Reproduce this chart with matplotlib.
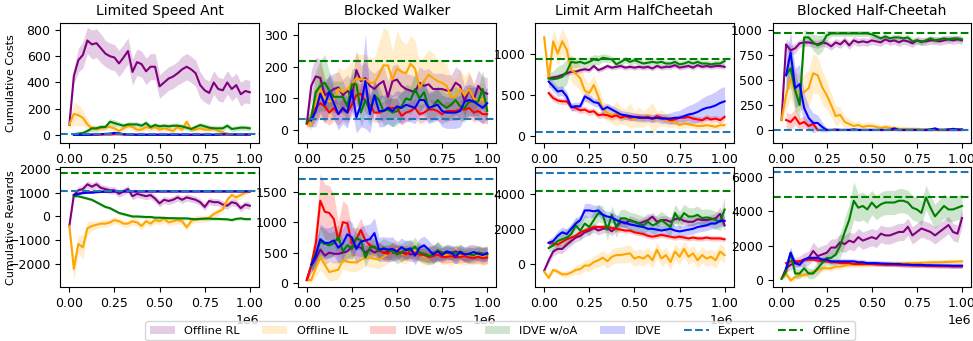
import numpy as np
import matplotlib
matplotlib.use("Agg")
from matplotlib import pyplot as plt
from matplotlib.patches import Patch
from matplotlib.lines import Line2D

nan = np.nan

# training steps, 0 .. 1e6 every 25k
steps = np.linspace(0, 1e6, 41)

titles = ["Limited Speed Ant", "Blocked Walker", "Limit Arm HalfCheetah", "Blocked Half-Cheetah"]
row_labels = ["Cumulative Costs", "Cumulative Rewards"]
method_names = ["Offline RL", "Offline IL", "IDVE w/oS", "IDVE w/oA", "IDVE"]
method_colors = ["purple", "orange", "red", "green", "blue"]

# ---------------- Limited Speed Ant : costs
ant_cost_rl = [76, 450, 570, 610, 720, 690, 700, 660, 620, 600,
               590, 545, 590, 640, 480, 555, 540, 485, 520, 520,
               370, 400, 430, 445, 470, 500, 520, 500, 470, 380,
               340, 320, 400, 350, 340, 400, 350, 380, 310, 335, 325]
ant_cost_rl_sd = [20, 60, 90, 100, 100, 110, 110, 110, 100, 100,
                  100, 100, 100, 100, 100, 100, 100, 100, 100, 100,
                  90, 90, 90, 90, 90, 100, 100, 100, 100, 100,
                  90, 90, 90, 90, 90, 90, 90, 90, 90, 90, 90]
ant_cost_il = [80, 160, 150, 130, 80, 50, 45, 50, 60, 60,
               50, 30, 50, 70, 60, 40, 40, 60, 50, 60,
               40, 50, 40, 30, 60, 40, 100, 40, 40, 50,
               40, 40, 50, 30, 20, 10, 5, 5, 5, 5, 5]
ant_cost_il_sd = [30, 90, 80, 60, 40, 30, 25, 25, 25, 25,
                  25, 20, 25, 25, 25, 20, 20, 25, 25, 25,
                  20, 20, 20, 20, 25, 20, 30, 20, 20, 20,
                  20, 20, 20, 20, 15, 10, 5, 5, 5, 5, 5]
ant_cost_wos = [nan, nan, 2, 2, 2, 2, 2, 3, 3, 3,
                5, 5, 3, 3, 3, 2, 2, 2, 2, 2,
                2, 2, 2, 2, 2, 2, 2, 2, 2, 2,
                2, 2, 2, 2, 2, 2, 2, 2, 2, 2, 2]
ant_cost_wos_sd = [0, 0, 4, 4, 4, 4, 4, 4, 4, 4,
                   5, 5, 4, 4, 4, 4, 4, 4, 4, 4,
                   4, 4, 4, 4, 4, 4, 4, 4, 4, 4,
                   4, 4, 4, 4, 4, 4, 4, 4, 4, 4, 4]
ant_cost_woa = [nan, 5, 10, 15, 30, 50, 50, 60, 60, 100,
                90, 80, 70, 80, 80, 80, 70, 90, 60, 75,
                65, 70, 65, 70, 70, 65, 55, 45, 60, 75,
                65, 55, 50, 50, 50, 70, 45, 50, 55, 55, 50]
ant_cost_woa_sd = [0, 5, 10, 10, 15, 20, 20, 20, 20, 25,
                   25, 20, 20, 20, 20, 20, 20, 20, 20, 20,
                   20, 20, 20, 20, 20, 20, 20, 20, 20, 20,
                   20, 20, 20, 20, 20, 20, 20, 20, 20, 20, 20]
ant_cost_idve = [nan, 0, 0, 0, 0, 2, 3, 5, 8, 10,
                 15, 12, 5, 3, 2, 1, 1, 1, 1, 1,
                 1, 1, 1, 1, 1, 1, 1, 1, 1, 1,
                 1, 1, 1, 1, 5, 5, 3, 3, 3, 3, 3]
ant_cost_idve_sd = [0, 3, 3, 3, 3, 4, 5, 6, 8, 10,
                    12, 10, 6, 4, 3, 3, 3, 3, 3, 3,
                    3, 3, 3, 3, 3, 3, 3, 3, 3, 3,
                    3, 3, 3, 3, 5, 5, 4, 4, 4, 4, 4]

# ---------------- Limited Speed Ant : rewards
ant_rew_rl = [-400, 900, 1100, 1150, 1350, 1250, 1350, 1200, 1150, 1100,
              1100, 950, 1050, 1150, 850, 950, 900, 850, 900, 750,
              550, 700, 650, 700, 800, 700, 800, 750, 700, 600,
              400, 650, 600, 600, 500, 450, 600, 550, 350, 500, 450]
ant_rew_rl_sd = [50, 100, 150, 150, 150, 150, 150, 150, 150, 150,
                 150, 150, 150, 150, 150, 150, 150, 150, 150, 150,
                 150, 150, 150, 150, 150, 150, 150, 150, 150, 150,
                 150, 150, 150, 150, 150, 150, 150, 150, 150, 150, 150]
ant_rew_il = [-400, -2200, -1150, -1300, -500, -400, -350, -300, -300, -250,
              -150, -200, -300, -300, -200, -250, -400, -200, -300, -150,
              -200, -100, -250, -200, -150, -200, -450, -200, -100, -100,
              -100, -50, 100, 200, 300, 700, 900, 800, 900, 1000, 1050]
ant_rew_il_sd = [50, 500, 400, 500, 300, 200, 150, 150, 150, 150,
                 150, 150, 150, 150, 150, 150, 150, 150, 150, 150,
                 150, 150, 150, 150, 150, 150, 150, 150, 150, 150,
                 150, 150, 150, 150, 150, 150, 150, 150, 150, 100, 100]
ant_rew_wos = [nan, 880, 950, 990, 1010, 1020, 1030, 1040, 1050, 1050,
               1060, 1060, 1060, 1060, 1060, 1060, 1060, 1060, 1060, 1060,
               1060, 1060, 1060, 1060, 1060, 1060, 1060, 1060, 1060, 1060,
               1060, 1060, 1060, 1060, 1060, 1060, 1060, 1060, 1060, 1060, 1060]
ant_rew_wos_sd = [0, 30, 30, 30, 30, 30, 30, 30, 30, 30,
                  30, 30, 30, 30, 30, 30, 30, 30, 30, 30,
                  30, 30, 30, 30, 30, 30, 30, 30, 30, 30,
                  30, 30, 30, 30, 30, 30, 30, 30, 30, 30, 30]
ant_rew_woa = [nan, 850, 850, 800, 750, 700, 600, 500, 400, 350,
               250, 150, 100, 50, 0, 0, -10, -20, -20, -50,
               -50, -60, -70, -70, -80, -80, -80, -100, -120, -100,
               -90, -90, -100, -100, -110, -120, -150, -100, -80, -110, -110]
ant_rew_woa_sd = [0, 40, 40, 50, 60, 60, 60, 60, 60, 60,
                  60, 60, 60, 60, 60, 60, 60, 60, 60, 60,
                  60, 60, 60, 60, 60, 60, 60, 60, 60, 60,
                  60, 60, 60, 60, 60, 60, 60, 60, 60, 60, 60]
ant_rew_idve = [nan, 900, 950, 980, 1000, 1000, 1020, 1030, 1040, 1040,
                1050, 1050, 1050, 1050, 1050, 1050, 1050, 1050, 1050, 1050,
                1050, 1050, 1050, 1050, 1050, 1050, 1050, 1050, 1050, 1050,
                1050, 1050, 1050, 1050, 1050, 1050, 1050, 1050, 1050, 1050, 1050]
ant_rew_idve_sd = [0, 30, 30, 30, 30, 30, 30, 30, 30, 30,
                   30, 30, 30, 30, 30, 30, 30, 30, 30, 30,
                   30, 30, 30, 30, 30, 30, 30, 30, 30, 30,
                   30, 30, 30, 30, 30, 30, 30, 30, 30, 30, 30]

# ---------------- Blocked Walker : costs
walk_cost_rl = [20, 140, 170, 165, 110, 120, 130, 135, 110, 125,
                105, 190, 155, 165, 140, 130, 145, 155, 105, 155,
                160, 140, 130, 125, 120, 150, 140, 145, 130, 130,
                130, 125, 125, 150, 140, 90, 130, 95, 140, 120, 115]
walk_cost_rl_sd = [10, 50, 60, 60, 50, 50, 50, 50, 50, 50,
                   50, 60, 50, 50, 50, 50, 50, 50, 50, 50,
                   50, 50, 50, 50, 50, 50, 50, 50, 50, 50,
                   50, 50, 50, 50, 50, 50, 50, 50, 50, 50, 50]
walk_cost_il = [20, 20, 90, 130, 100, 90, 95, 130, 120, 130,
                145, 165, 160, 160, 150, 150, 175, 205, 205, 160,
                195, 185, 180, 210, 195, 135, 155, 175, 165, 155,
                150, 140, 105, 105, 130, 110, 130, 100, 90, 100, 65]
walk_cost_il_sd = [10, 20, 60, 80, 70, 60, 60, 70, 70, 70,
                   70, 80, 80, 80, 80, 80, 100, 120, 110, 90,
                   120, 100, 90, 90, 90, 80, 80, 80, 80, 70,
                   70, 70, 60, 60, 60, 60, 60, 50, 50, 50, 40]
walk_cost_wos = [20, 40, 70, 85, 75, 55, 70, 50, 65, 55,
                 80, 110, 115, 90, 80, 55, 55, 60, 70, 70,
                 70, 45, 55, 60, 70, 50, 55, 65, 65, 60,
                 50, 60, 60, 60, 65, 65, 70, 55, 60, 50, 50]
walk_cost_wos_sd = [10, 30, 40, 50, 50, 40, 40, 35, 35, 35,
                    35, 35, 35, 35, 35, 30, 30, 30, 30, 30,
                    30, 30, 30, 30, 30, 30, 30, 30, 30, 30,
                    30, 30, 30, 30, 30, 30, 30, 30, 30, 30, 30]
walk_cost_woa = [25, 40, 120, 140, 150, 125, 105, 105, 105, 75,
                 145, 145, 55, 95, 60, 110, 95, 60, 65, 55,
                 60, 75, 100, 95, 130, 100, 120, 70, 75, 95,
                 80, 70, 80, 95, 75, 70, 90, 90, 90, 130, 60]
walk_cost_woa_sd = [10, 30, 70, 80, 90, 60, 50, 50, 50, 45,
                    50, 50, 45, 45, 45, 45, 45, 45, 45, 45,
                    45, 45, 45, 45, 50, 45, 45, 45, 45, 45,
                    45, 45, 45, 45, 45, 45, 45, 45, 45, 60, 45]
walk_cost_idve = [nan, 30, 60, 115, 80, 120, 85, 50, 70, 55,
                  125, 40, 80, 155, 50, 110, 60, 60, 70, 60,
                  75, 70, 80, 75, 70, 95, 95, 70, 75, 80,
                  60, 55, 55, 55, 60, 90, 95, 90, 80, 70, 85]
walk_cost_idve_sd = [0, 20, 50, 60, 60, 60, 50, 50, 50, 50,
                     60, 50, 70, 150, 60, 50, 50, 50, 50, 50,
                     50, 50, 50, 50, 50, 50, 50, 50, 50, 50,
                     50, 50, 50, 50, 50, 50, 50, 50, 50, 50, 50]

# ---------------- Blocked Walker : rewards
walk_rew_rl = [50, 280, 400, 550, 450, 500, 480, 480, 500, 520,
               600, 600, 580, 500, 550, 500, 540, 500, 510, 500,
               520, 480, 500, 470, 480, 500, 470, 460, 500, 470,
               480, 500, 490, 520, 490, 460, 480, 470, 490, 480, 480]
walk_rew_rl_sd = [20, 100, 150, 150, 150, 150, 150, 150, 150, 150,
                  150, 150, 150, 120, 120, 120, 120, 120, 120, 120,
                  120, 120, 120, 120, 120, 120, 120, 120, 120, 120,
                  100, 100, 100, 100, 100, 100, 100, 100, 100, 100, 100]
walk_rew_il = [50, 50, 250, 420, 300, 180, 200, 220, 380, 350,
               340, 340, 380, 430, 410, 400, 380, 430, 480, 520,
               560, 480, 470, 540, 540, 500, 440, 460, 480, 500,
               450, 460, 430, 480, 450, 440, 460, 480, 460, 440, 460]
walk_rew_il_sd = [20, 50, 150, 200, 180, 150, 150, 150, 150, 150,
                  150, 150, 150, 150, 150, 150, 150, 150, 150, 150,
                  150, 150, 150, 150, 150, 150, 150, 150, 150, 150,
                  150, 150, 150, 150, 150, 150, 150, 150, 150, 150, 150]
walk_rew_wos = [50, 300, 650, 1350, 1170, 1150, 1050, 700, 1000, 980,
                650, 720, 870, 700, 620, 580, 550, 500, 480, 550,
                520, 500, 470, 530, 490, 470, 460, 430, 440, 470,
                430, 430, 440, 420, 430, 440, 420, 410, 430, 410, 420]
walk_rew_wos_sd = [20, 150, 300, 450, 450, 450, 400, 300, 350, 300,
                   250, 200, 200, 150, 150, 120, 120, 120, 120, 120,
                   100, 100, 100, 100, 100, 100, 100, 100, 100, 100,
                   100, 100, 100, 100, 100, 100, 100, 100, 100, 100, 100]
walk_rew_woa = [nan, 280, 500, 680, 640, 620, 650, 760, 520, 620,
                560, 740, 700, 420, 580, 600, 520, 580, 540, 520,
                470, 500, 560, 530, 600, 500, 480, 450, 460, 540,
                500, 500, 500, 480, 520, 470, 470, 460, 500, 480, 470]
walk_rew_woa_sd = [0, 100, 200, 250, 250, 200, 200, 200, 200, 200,
                   180, 180, 180, 150, 150, 150, 150, 150, 150, 150,
                   150, 150, 150, 150, 150, 150, 150, 150, 150, 150,
                   120, 120, 120, 120, 120, 120, 120, 120, 120, 120, 120]
walk_rew_idve = [nan, 300, 450, 720, 660, 660, 700, 580, 650, 800,
                 750, 560, 680, 700, 720, 820, 550, 560, 550, 560,
                 520, 590, 540, 570, 450, 580, 620, 550, 470, 520,
                 460, 520, 500, 430, 510, 470, 480, 510, 480, 460, 490]
walk_rew_idve_sd = [0, 100, 200, 250, 250, 250, 250, 250, 250, 250,
                    250, 250, 250, 250, 250, 250, 200, 200, 200, 200,
                    150, 150, 150, 150, 150, 150, 150, 150, 150, 150,
                    120, 120, 120, 120, 120, 120, 150, 120, 120, 120, 120]

# ---------------- Limit Arm HalfCheetah : costs
arm_cost_rl = [nan, 700, 710, 720, 740, 760, 780, 780, 800, 810,
               800, 850, 800, 820, 850, 830, 840, 850, 830, 840,
               830, 840, 830, 840, 820, 850, 830, 840, 840, 860,
               830, 840, 850, 830, 860, 840, 850, 840, 850, 850, 840]
arm_cost_rl_sd = [0, 30, 30, 30, 30, 30, 30, 30, 30, 30,
                  30, 30, 30, 30, 30, 30, 30, 30, 30, 30,
                  30, 30, 30, 30, 30, 30, 30, 30, 30, 30,
                  30, 30, 30, 30, 30, 30, 30, 30, 30, 30, 30]
arm_cost_il = [1200, 700, 1150, 1000, 1150, 1050, 800, 760, 700, 550,
               520, 620, 480, 330, 280, 250, 270, 250, 230, 250,
               200, 230, 200, 250, 200, 200, 220, 190, 180, 170,
               130, 150, 140, 130, 120, 120, 130, 120, 110, 130, 130]
arm_cost_il_sd = [50, 150, 150, 150, 150, 150, 150, 150, 150, 150,
                  120, 120, 120, 100, 100, 100, 150, 100, 100, 150,
                  100, 120, 100, 100, 200, 100, 100, 80, 80, 60,
                  50, 50, 40, 40, 40, 40, 40, 40, 40, 40, 40]
arm_cost_wos = [nan, 520, 460, 430, 420, 420, 350, 340, 310, 320,
                290, 300, 250, 260, 250, 230, 250, 220, 240, 220,
                230, 230, 220, 230, 210, 240, 220, 210, 190, 200,
                220, 220, 230, 210, 200, 190, 220, 200, 210, 190, 230]
arm_cost_wos_sd = [0, 40, 40, 40, 40, 40, 40, 40, 40, 40,
                   40, 40, 40, 40, 40, 40, 40, 40, 40, 40,
                   40, 40, 40, 40, 40, 40, 40, 40, 40, 40,
                   40, 40, 40, 40, 40, 40, 40, 40, 40, 40, 40]
arm_cost_woa = [nan, 700, 690, 700, 720, 780, 900, 890, 900, 880,
                900, 930, 920, 950, 940, 930, 870, 900, 930, 900,
                920, 900, 880, 890, 900, 890, 900, 880, 880, 900,
                870, 880, 900, 880, 900, 880, 880, 870, 880, 880, 910]
arm_cost_woa_sd = [0, 60, 100, 150, 150, 150, 80, 60, 60, 60,
                   60, 60, 60, 50, 50, 40, 40, 40, 40, 40,
                   40, 40, 40, 40, 40, 40, 40, 40, 40, 40,
                   40, 40, 40, 40, 40, 40, 40, 40, 40, 40, 40]
arm_cost_idve = [nan, 660, 600, 540, 550, 480, 350, 360, 360, 480,
                 450, 410, 400, 320, 350, 320, 290, 260, 250, 240,
                 230, 220, 220, 220, 210, 220, 210, 210, 210, 220,
                 220, 240, 260, 270, 290, 320, 340, 350, 370, 400, 420]
arm_cost_idve_sd = [0, 60, 60, 60, 60, 60, 50, 50, 50, 50,
                    50, 50, 50, 50, 50, 50, 50, 50, 50, 50,
                    50, 50, 50, 50, 50, 50, 60, 60, 70, 80,
                    90, 100, 110, 120, 130, 140, 150, 160, 170, 180, 180]

# ---------------- Limit Arm HalfCheetah : rewards
arm_rew_rl = [-400, 200, 700, 850, 850, 1100, 1300, 1500, 1600, 1800,
              1900, 2050, 1900, 2000, 2050, 1850, 2100, 2400, 2300, 2500,
              2400, 2300, 2400, 2500, 2700, 2400, 2500, 2500, 2400, 2550,
              2600, 2450, 2400, 2400, 2550, 2500, 2500, 2550, 2600, 2850, 2200]
arm_rew_rl_sd = [50, 200, 250, 250, 250, 250, 250, 250, 250, 250,
                 250, 250, 250, 250, 250, 250, 250, 250, 250, 250,
                 250, 250, 250, 250, 250, 250, 250, 250, 250, 250,
                 250, 250, 250, 250, 250, 250, 250, 250, 300, 400, 300]
arm_rew_il = [-450, -800, -350, -450, -600, -600, -500, -350, -300, -100,
              -100, 100, 200, 350, 150, 400, 500, 500, 550, 600,
              300, 400, 300, 500, 200, 800, 300, 500, 100, 700,
              400, 850, 400, 600, 200, 500, 300, 400, 200, 700, 500]
arm_rew_il_sd = [80, 150, 150, 150, 150, 200, 200, 250, 300, 300,
                 350, 350, 400, 400, 400, 450, 450, 450, 500, 500,
                 450, 450, 450, 450, 450, 450, 450, 450, 450, 450,
                 450, 450, 450, 450, 450, 450, 450, 450, 450, 450, 450]
arm_rew_wos = [nan, 1200, 1150, 1100, 1250, 1400, 1500, 1600, 1800, 1900,
               2000, 2100, 2100, 2100, 2100, 2050, 2000, 1950, 1900, 1900,
               1800, 1750, 1700, 1600, 1550, 1600, 1650, 1600, 1550, 1500,
               1550, 1500, 1450, 1500, 1450, 1450, 1500, 1450, 1450, 1450, 1400]
arm_rew_wos_sd = [0, 150, 150, 150, 150, 150, 150, 150, 150, 150,
                  150, 150, 150, 150, 150, 150, 150, 150, 150, 150,
                  150, 150, 150, 150, 150, 150, 150, 150, 150, 150,
                  150, 150, 150, 150, 150, 150, 150, 150, 150, 150, 150]
arm_rew_woa = [nan, 900, 1050, 1300, 1400, 1500, 1700, 2200, 1900, 2300,
               2100, 2500, 2900, 2800, 1950, 2800, 2100, 2600, 2600, 2450,
               2400, 2300, 2200, 2400, 2200, 2300, 2500, 2300, 2100, 2900,
               2500, 2900, 2700, 2700, 2800, 2600, 2650, 2600, 2500, 2400, 3100]
arm_rew_woa_sd = [0, 200, 300, 400, 500, 500, 500, 500, 500, 500,
                  500, 500, 500, 500, 600, 500, 600, 500, 500, 500,
                  500, 500, 500, 500, 500, 500, 500, 500, 500, 500,
                  500, 500, 500, 500, 500, 500, 500, 500, 500, 500, 700]
arm_rew_idve = [nan, 1200, 1300, 1600, 1800, 1700, 2000, 2300, 2500, 3050,
                3050, 3000, 3050, 2800, 2700, 2650, 2500, 2400, 2350, 2250,
                2200, 2150, 2100, 2000, 2000, 1950, 1900, 1950, 2000, 1900,
                1850, 1900, 1950, 2000, 2100, 2150, 2200, 2300, 2300, 2450, 2450]
arm_rew_idve_sd = [0, 200, 250, 300, 300, 300, 300, 300, 300, 400,
                   400, 350, 300, 300, 300, 300, 300, 300, 300, 300,
                   300, 300, 300, 300, 300, 300, 300, 300, 300, 300,
                   300, 300, 300, 300, 300, 300, 300, 300, 300, 300, 300]

# ---------------- Blocked Half-Cheetah : costs
bhc_cost_rl = [100, 860, 800, 820, 870, 880, 880, 870, 860, 880,
               870, 840, 880, 860, 900, 850, 900, 880, 890, 880,
               900, 890, 880, 910, 890, 900, 880, 900, 890, 870,
               900, 890, 890, 900, 900, 890, 900, 910, 900, 910, 900]
bhc_cost_rl_sd = [30, 60, 50, 50, 40, 40, 40, 40, 40, 40,
                  40, 40, 40, 40, 40, 40, 40, 40, 40, 40,
                  40, 40, 40, 40, 40, 40, 40, 40, 40, 40,
                  40, 40, 40, 40, 40, 40, 40, 40, 40, 40, 40]
bhc_cost_il = [100, 350, 520, 380, 380, 380, 420, 570, 550, 430,
               350, 250, 140, 150, 80, 60, 40, 50, 30, 40,
               40, 30, 20, 30, 20, 20, 10, 10, 10, 10,
               10, 5, 5, 5, 5, 5, 5, 5, 5, 5, 5]
bhc_cost_il_sd = [30, 150, 200, 200, 180, 180, 180, 200, 180, 170,
                  150, 120, 100, 80, 60, 50, 40, 40, 40, 40,
                  40, 30, 30, 30, 30, 30, 30, 30, 20, 20,
                  20, 20, 20, 20, 20, 20, 20, 20, 20, 20, 20]
bhc_cost_wos = [nan, 100, 80, 130, 60, 80, 40, 60, 0, 0,
                0, 0, 5, 0, 0, 0, 0, 0, 0, 0,
                0, 0, 0, 0, 0, 0, 0, 0, 0, 0,
                0, 0, 0, 0, 0, 0, 0, 0, 0, 0, 0]
bhc_cost_wos_sd = [0, 80, 80, 80, 60, 60, 50, 50, 10, 5,
                   5, 5, 5, 5, 5, 5, 5, 5, 5, 5,
                   5, 5, 5, 5, 5, 5, 5, 5, 5, 5,
                   5, 5, 5, 5, 5, 5, 5, 5, 5, 5, 5]
bhc_cost_woa = [nan, 550, 620, 400, 250, 930, 930, 880, 850, 870,
                950, 970, 970, 970, 970, 970, 970, 970, 970, 970,
                960, 940, 920, 940, 920, 930, 930, 920, 930, 890,
                900, 880, 900, 920, 900, 910, 920, 910, 920, 920, 910]
bhc_cost_woa_sd = [0, 150, 200, 200, 150, 80, 60, 80, 100, 80,
                   50, 30, 30, 30, 30, 30, 30, 30, 30, 30,
                   30, 30, 30, 30, 30, 30, 30, 30, 30, 30,
                   30, 30, 30, 30, 30, 30, 30, 30, 30, 30, 30]
bhc_cost_idve = [nan, 550, 780, 420, 460, 220, 120, 70, 70, 30,
                 0, 0, 0, 0, 0, 0, 5, 0, 0, 0,
                 0, 0, 0, 0, 0, 15, 0, 0, 0, 0,
                 0, 0, 0, 5, 15, 0, 0, 5, 10, 5, 5]
bhc_cost_idve_sd = [0, 200, 200, 200, 200, 150, 120, 100, 80, 50,
                    20, 10, 10, 10, 10, 10, 15, 10, 10, 10,
                    10, 10, 10, 10, 10, 20, 10, 10, 10, 10,
                    10, 10, 10, 15, 20, 10, 10, 15, 20, 15, 15]

# ---------------- Blocked Half-Cheetah : rewards
bhc_rew_rl = [100, 700, 900, 1000, 1100, 1200, 1300, 1700, 1400, 1500,
              1600, 1900, 1900, 2200, 2100, 2300, 2200, 2500, 2300, 2400,
              2500, 2400, 2700, 2600, 2600, 2700, 2800, 2800, 3100, 2600,
              2800, 3000, 2900, 2800, 2600, 2800, 3000, 3200, 2800, 2700, 3600]
bhc_rew_rl_sd = [50, 200, 300, 300, 300, 400, 400, 500, 500, 500,
                 500, 500, 500, 500, 500, 500, 500, 500, 500, 500,
                 500, 500, 500, 500, 500, 500, 500, 500, 500, 500,
                 500, 500, 500, 500, 500, 500, 500, 500, 500, 500, 500]
bhc_rew_il = [100, 400, 0, 200, 300, 300, 400, 500, 600, 700,
              700, 700, 800, 800, 850, 900, 900, 900, 900, 920,
              950, 950, 950, 960, 970, 980, 980, 990, 1000, 1000,
              1000, 1020, 1030, 1040, 1050, 1050, 1060, 1070, 1080, 1090, 1100]
bhc_rew_il_sd = [50, 150, 150, 150, 150, 150, 150, 150, 150, 150,
                 150, 150, 150, 150, 150, 150, 150, 150, 150, 150,
                 150, 150, 150, 150, 150, 150, 150, 150, 150, 150,
                 150, 150, 150, 150, 150, 150, 150, 150, 150, 150, 150]
bhc_rew_wos = [nan, 1000, 1100, 1100, 1100, 1200, 1200, 1200, 1150, 1100,
               1100, 1050, 1050, 1000, 1000, 1000, 950, 950, 950, 950,
               950, 920, 920, 900, 900, 900, 880, 880, 870, 860,
               850, 850, 840, 830, 830, 820, 820, 810, 800, 800, 800]
bhc_rew_wos_sd = [0, 100, 100, 100, 100, 100, 100, 100, 100, 100,
                  100, 100, 100, 100, 100, 100, 100, 100, 100, 100,
                  100, 100, 100, 100, 100, 100, 100, 100, 100, 100,
                  100, 100, 100, 100, 100, 100, 100, 100, 100, 100, 100]
bhc_rew_woa = [100, 500, 1600, 400, 400, 700, 400, 400, 700, 1000,
               1300, 1300, 1500, 2000, 2800, 3500, 4600, 4200, 4300, 4100,
               4500, 4200, 4400, 4500, 4500, 4500, 4600, 4600, 4500, 4200,
               4100, 3900, 4800, 4200, 3700, 4000, 4300, 4100, 4100, 4200, 4300]
bhc_rew_woa_sd = [50, 300, 300, 300, 300, 300, 300, 300, 400, 400,
                  400, 500, 600, 700, 800, 900, 1100, 800, 800, 800,
                  700, 700, 700, 700, 700, 700, 700, 700, 700, 700,
                  700, 700, 700, 700, 700, 700, 700, 700, 700, 700, 700]
bhc_rew_idve = [nan, 700, 1600, 1000, 900, 1200, 1300, 1300, 1300, 1200,
                1200, 1100, 1100, 1100, 1100, 1100, 1100, 1050, 1050, 1000,
                1000, 1000, 980, 970, 960, 950, 950, 920, 920, 900,
                900, 900, 880, 880, 870, 870, 860, 860, 850, 850, 850]
bhc_rew_idve_sd = [0, 200, 300, 200, 150, 150, 150, 150, 150, 150,
                   150, 150, 150, 150, 150, 150, 150, 150, 150, 150,
                   150, 150, 150, 150, 150, 150, 150, 150, 150, 150,
                   150, 150, 150, 150, 150, 150, 150, 150, 150, 150, 150]

# reference levels (expert, offline) and axis settings per panel
expert_levels = [[5, 35, 52, 0], [1077, 1709, 5200, 6250]]
offline_levels = [[850, 219, 940, 973], [1818, 1467, 4152, 4838]]
y_ranges = [[(-63, 852), (-42, 339), (-89, 1371), (-133, 1073)],
            [(-2965, 2070), (-66, 1901), (-1333, 5524), (-387, 6542)]]
y_ticks = [[[0, 200, 400, 600, 800], [0, 100, 200, 300], [0, 500, 1000], [0, 250, 500, 750, 1000]],
           [[-2000, -1000, 0, 1000, 2000], [0, 500, 1000, 1500], [0, 2000, 4000], [0, 2000, 4000, 6000]]]
x_ticks = [0, 2.5e5, 5e5, 7.5e5, 1e6]

panels = [
    [
        [(ant_cost_rl, ant_cost_rl_sd), (ant_cost_il, ant_cost_il_sd), (ant_cost_wos, ant_cost_wos_sd),
         (ant_cost_woa, ant_cost_woa_sd), (ant_cost_idve, ant_cost_idve_sd)],
        [(walk_cost_rl, walk_cost_rl_sd), (walk_cost_il, walk_cost_il_sd), (walk_cost_wos, walk_cost_wos_sd),
         (walk_cost_woa, walk_cost_woa_sd), (walk_cost_idve, walk_cost_idve_sd)],
        [(arm_cost_rl, arm_cost_rl_sd), (arm_cost_il, arm_cost_il_sd), (arm_cost_wos, arm_cost_wos_sd),
         (arm_cost_woa, arm_cost_woa_sd), (arm_cost_idve, arm_cost_idve_sd)],
        [(bhc_cost_rl, bhc_cost_rl_sd), (bhc_cost_il, bhc_cost_il_sd), (bhc_cost_wos, bhc_cost_wos_sd),
         (bhc_cost_woa, bhc_cost_woa_sd), (bhc_cost_idve, bhc_cost_idve_sd)],
    ],
    [
        [(ant_rew_rl, ant_rew_rl_sd), (ant_rew_il, ant_rew_il_sd), (ant_rew_wos, ant_rew_wos_sd),
         (ant_rew_woa, ant_rew_woa_sd), (ant_rew_idve, ant_rew_idve_sd)],
        [(walk_rew_rl, walk_rew_rl_sd), (walk_rew_il, walk_rew_il_sd), (walk_rew_wos, walk_rew_wos_sd),
         (walk_rew_woa, walk_rew_woa_sd), (walk_rew_idve, walk_rew_idve_sd)],
        [(arm_rew_rl, arm_rew_rl_sd), (arm_rew_il, arm_rew_il_sd), (arm_rew_wos, arm_rew_wos_sd),
         (arm_rew_woa, arm_rew_woa_sd), (arm_rew_idve, arm_rew_idve_sd)],
        [(bhc_rew_rl, bhc_rew_rl_sd), (bhc_rew_il, bhc_rew_il_sd), (bhc_rew_wos, bhc_rew_wos_sd),
         (bhc_rew_woa, bhc_rew_woa_sd), (bhc_rew_idve, bhc_rew_idve_sd)],
    ],
]

fig, axes = plt.subplots(2, 4, figsize=(9.73, 3.41), dpi=100)
fig.subplots_adjust(left=0.062, right=0.998, top=0.932, bottom=0.158, wspace=0.196, hspace=0.2)

for r in range(2):
    for c in range(4):
        ax = axes[r][c]
        for (mean, sd), color in zip(panels[r][c], method_colors):
            mean = np.array(mean, dtype=float)
            sd = np.array(sd, dtype=float)
            ax.fill_between(steps, mean - sd, mean + sd, color=color, alpha=0.2, linewidth=0)
            ax.plot(steps, mean, color=color, linewidth=1.5)
        ax.axhline(expert_levels[r][c], color="tab:blue", linestyle="--", linewidth=1.5)
        ax.axhline(offline_levels[r][c], color="green", linestyle="--", linewidth=1.5)
        ax.set_ylim(*y_ranges[r][c])
        ax.set_yticks(y_ticks[r][c])
        ax.set_xticks(x_ticks)
        ax.tick_params(labelsize=9)
        ax.xaxis.get_offset_text().set_fontsize(9)
        if r == 0:
            ax.set_title(titles[c], fontsize=10)
        if c == 0:
            ax.set_ylabel(row_labels[r], fontsize=8)
            ax.yaxis.set_label_coords(-0.225, 0.5)

handles = [Patch(facecolor=col, alpha=0.2) for col in method_colors]
handles += [Line2D([], [], color="tab:blue", linestyle="--", linewidth=1.5),
            Line2D([], [], color="green", linestyle="--", linewidth=1.5)]
fig.legend(handles, method_names + ["Expert", "Offline"], loc="lower center",
           bbox_to_anchor=(0.514, -0.015), ncol=7, fontsize=8.2,
           handlelength=2.2, columnspacing=2.0, frameon=True)

fig.savefig("out.png", dpi=100)
